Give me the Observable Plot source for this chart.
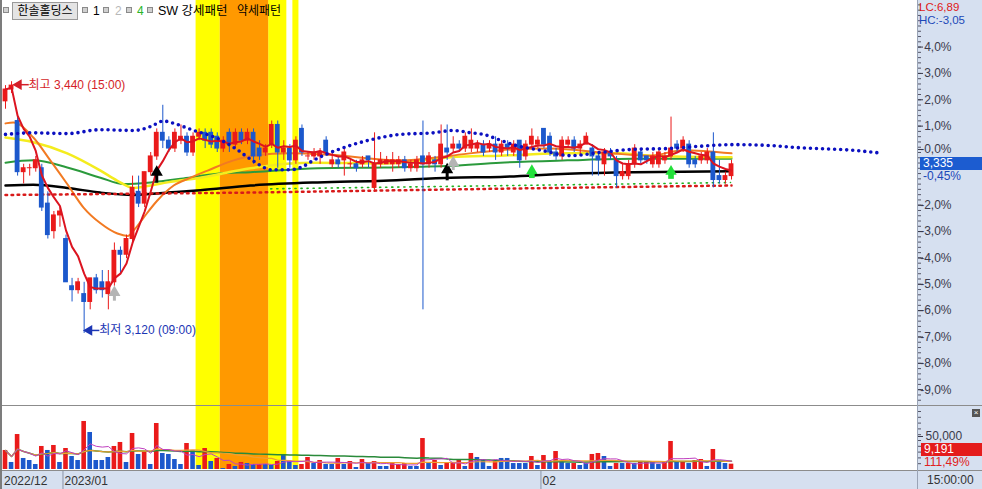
<!DOCTYPE html>
<html><head><meta charset="utf-8">
<script src="https://cdn.jsdelivr.net/npm/d3@7"></script>
<script src="https://cdn.jsdelivr.net/npm/@observablehq/plot@0.6"></script>
<style>
html,body{margin:0;padding:0;background:#fff;}
#wrap{position:relative;width:982px;height:489px;overflow:hidden;background:#fff;font-family:'Liberation Sans','Noto Sans CJK KR',sans-serif;font-size:12px;}
.abs{position:absolute;white-space:nowrap;}
</style></head><body><div id="wrap"></div>
<script>
// ---------------- DATA ----------------
const stockName = "한솔홀딩스";
const basePrice = 3350;
const open = [3415,3430,3390,3325,3330,3330,3330,3285,3250,3270, 3240,3180,3175,3170,3160,3190,3185,3170,3185,3225, 3220,3240,3300,3285,3325,3345,3375,3365,3355,3365, 3370,3350,3370,3375,3375,3370,3355,3375,3360,3375, 3365,3375,3355,3350,3360,3385,3350,3355,3340,3380, 3345,3345,3345,3365,3335,3340,3340,3335,3335,3335, 3345,3305,3335,3335,3335,3335,3340,3330,3330,3345, 3335,3340,3335,3355,3355,3360,3355,3355,3355,3360, 3355,3360,3350,3360,3350,3365,3345,3360,3360,3380, 3370,3350,3345,3360,3365,3355,3360,3355,3345,3335, 3350,3340,3320,3320,3335,3350,3345,3335,3335,3340, 3345,3360,3355,3360,3340,3340,3340,3350,3320,3315, 3320];
const high = [3435,3440,3395,3335,3335,3345,3335,3300,3275,3280, 3245,3190,3190,3185,3190,3195,3200,3200,3235,3230, 3245,3320,3320,3325,3350,3380,3410,3370,3380,3385, 3375,3375,3380,3380,3380,3375,3370,3380,3380,3380, 3380,3380,3365,3360,3390,3390,3365,3360,3370,3385, 3350,3355,3355,3370,3350,3345,3355,3340,3340,3345, 3345,3375,3350,3345,3350,3345,3345,3340,3345,3390, 3350,3345,3385,3385,3370,3365,3375,3380,3365,3365, 3365,3370,3365,3365,3365,3365,3365,3380,3370,3380, 3375,3355,3370,3370,3370,3365,3375,3360,3350,3355, 3355,3345,3335,3340,3360,3355,3345,3350,3355,3350, 3395,3365,3370,3365,3345,3350,3355,3375,3340,3325, 3340];
const low = [3405,3425,3320,3310,3320,3325,3275,3240,3240,3255, 3185,3160,3170,3120,3150,3170,3165,3150,3180,3195, 3215,3235,3280,3280,3320,3340,3355,3350,3350,3360, 3345,3345,3365,3355,3355,3350,3350,3350,3355,3360, 3360,3335,3340,3345,3355,3330,3340,3330,3335,3345, 3340,3340,3335,3345,3330,3330,3320,3330,3325,3330, 3330,3300,3330,3335,3325,3330,3325,3325,3325,3150, 3330,3325,3330,3340,3350,3350,3350,3350,3350,3345, 3350,3340,3345,3345,3345,3330,3340,3355,3355,3355, 3345,3340,3340,3355,3350,3345,3360,3320,3320,3320, 3340,3305,3315,3315,3330,3335,3335,3330,3330,3335, 3340,3350,3350,3330,3330,3335,3335,3305,3310,3310, 3315];
const close = [3430,3435,3325,3330,3330,3340,3280,3245,3270,3275, 3185,3175,3185,3160,3190,3175,3175,3185,3225,3220, 3240,3305,3285,3325,3345,3375,3365,3355,3375,3370, 3350,3370,3375,3365,3360,3355,3365,3360,3375,3365, 3375,3345,3345,3355,3385,3350,3355,3340,3365,3350, 3345,3350,3350,3350,3340,3335,3350,3335,3330,3340, 3340,3335,3340,3340,3340,3340,3330,3335,3340,3335, 3345,3335,3360,3350,3360,3355,3370,3365,3360,3350, 3360,3350,3360,3355,3360,3340,3360,3370,3365,3360, 3350,3345,3365,3365,3355,3360,3370,3345,3340,3350, 3345,3320,3325,3335,3355,3340,3340,3345,3350,3345, 3355,3355,3365,3335,3335,3345,3350,3315,3315,3320, 3335];
const volume = [32800,12100,60300,19000,15500,8600,39700,32800,41400,12100, 36200,22400,15500,82800,63800,15500,15500,20700,39700,46600, 12100,62100,25900,31000,8600,79300,27600,25900,17200,8600, 44800,32800,6900,36200,13800,19000,1700,8600,5200,12100, 10300,8600,8600,8600,6900,13800,25900,13800,6900,8600, 20700,10300,15500,8600,8600,19000,8600,13800,3400,17200, 10300,13800,5200,5200,10300,8600,10300,5200,5200,53400, 10300,15500,6900,10300,10300,15500,5200,27600,20700,17200, 5200,15500,19000,19000,10300,10300,10300,22400,6900,24100, 12100,31000,12100,10300,10300,6900,10300,25900,27600,22400, 5200,10300,10300,10300,10300,12100,12100,12100,8600,12100, 48300,12100,12100,10300,15500,17200,5200,34500,12100,10300, 9191];
const volumeUp = [1,0,1,0,0,0,1,0,1,0, 1,0,0,1,0,0,0,0,1,1, 0,1,0,1,0,1,0,0,0,0, 1,0,0,1,0,1,0,1,0,1, 0,0,1,0,0,1,0,0,0,1, 1,0,1,0,0,1,0,1,0,1, 0,1,0,0,1,1,1,0,0,1, 0,1,0,1,1,1,0,1,0,0, 0,1,0,0,0,0,0,1,0,1, 0,1,0,0,1,0,0,1,1,0, 0,1,0,1,0,1,1,0,0,1, 1,0,1,0,1,1,0,1,0,0, 1];

// indicator lines: [bar index, price]
const orangeMA = [[0,3387],[1.3,3388],[4.6,3369],[7.4,3340],[10.2,3310],[12.9,3280],[15.7,3260],[18.5,3247],[20.2,3244],[21.2,3251],[22.8,3267],[25.1,3289],[27.8,3308],[30.6,3318],[33.4,3327],[37.7,3340],[40.8,3346],[47.1,3349],[53.7,3347],[65.3,3340],[73.6,3346],[81.8,3353],[90.1,3355],[100,3349],[106.6,3346],[112,3353],[120,3349]];
const yellowMA = [[0,3369],[4.6,3363],[10.2,3349],[15.7,3327],[18.5,3314],[21.2,3305],[24,3308],[26.8,3312],[32.2,3318],[40.5,3330],[47.1,3336],[50.9,3337],[62.5,3336],[73.6,3344],[81.8,3346],[92.9,3349],[101.2,3349],[106.6,3346],[120,3344]];
const greenMA = [[0,3337],[4.6,3340],[10.2,3331],[15.7,3318],[19.5,3310],[24,3312],[29.4,3317],[35,3323],[40.5,3325],[51.6,3330],[62.5,3331],[73.6,3333],[81.8,3337],[92.9,3340],[103.8,3342],[120,3342]];
const blackMA = [[0,3308],[4.6,3309],[10.2,3305],[15.7,3299],[21.2,3296],[26.8,3299],[32.2,3302],[40.5,3308],[51.6,3312],[62.5,3314],[73.6,3318],[81.8,3319],[92.9,3323],[103.8,3325],[120,3326]];
const blueDots = [[0,3373],[4.6,3375],[10.2,3374],[15.7,3379],[21.2,3378],[24,3383],[26.1,3390],[27.8,3387],[31.1,3378],[35,3368],[38,3355],[41,3339],[44,3328],[47.1,3328],[49.1,3332],[50.9,3340],[53.7,3350],[57,3359],[60.8,3367],[65.3,3373],[70.7,3375],[74,3378],[76.9,3375],[79,3373],[81.3,3367],[84.3,3359],[88.4,3353],[93.4,3346],[98.3,3350],[103.8,3354],[109.4,3355],[114.9,3358],[120.3,3360],[126,3359],[131.4,3356],[139.7,3353],[145,3349]];
const redDotRow = [[0,3296],[40,3299],[82,3304],[120,3308]];
const greenDotRow = [[44,3300],[82,3304],[120,3308]];

// SW pattern bands (bar index ranges)
const yellowBands = [[32,35],[44,46],[48,48]];
const orangeBands = [[36,43]];

// signals
const blackArrows = [{i:25, from:3311, to:3325},{i:73, from:3314, to:3328}];
const grayArrows = [{i:18, from:3161, to:3172},{i:74, from:3327, to:3337}];
const greenMarks = [{i:87, p:3323},{i:110, p:3322}];
const highMark = {i:1, price:3440, time:"15:00"};
const lowMark = {i:13, price:3120, time:"09:00"};

const pctTicks = [4,3,2,1,-2,-3,-4,-5,-6,-7,-8,-9];
const zeroLabel = "-0,0%";
const dateLabels = ["2022/12","2023/01","02"];
const dateStarts = [0,10,89];
const volTickLabel = 50000;
const volRatioText = "111,49%";
const timeText = "15:00:00";

// ---------------- DRAW ----------------
const FONT = "'Liberation Sans','Noto Sans CJK KR',sans-serif";
const RED = "#ea1a1a", BLUE = "#1c58cc";
const xDomain = [-0.496, 150.74];
const wrap = document.getElementById("wrap");
function addDiv(style, text) {
  const d = document.createElement("div");
  d.className = "abs";
  Object.assign(d.style, style);
  if (text != null) d.textContent = text;
  wrap.appendChild(d);
  return d;
}
const P = d => d[0], V = d => d[1];
const candles = open.map((o, i) => ({i, o, h: high[i], l: low[i], c: close[i], up: close[i] >= o}));
const vols = volume.map((v, i) => ({i, v, up: volumeUp[i] === 1}));
const bands = [
  ...yellowBands.map(([s, e]) => ({s, e, color: "#ffff00"})),
  ...orangeBands.map(([s, e]) => ({s, e, color: "#ff9900"}))
];
const comma = x => x.toFixed(2).replace(".", ",");
const pctFmt = v => `${Math.round((v / basePrice - 1) * 100)},0%`;

// background panels
addDiv({left: "918px", top: "0px", width: "64px", height: "489px", background: "#d6e0f0"});
addDiv({left: "0px", top: "471px", width: "982px", height: "18px", background: "#d6e0f0"});

const main = Plot.plot({
  width: 982, height: 405,
  marginTop: 0, marginBottom: 0, marginLeft: 2, marginRight: 65,
  x: {domain: xDomain, axis: null},
  y: {domain: [3028.4, 3543.2]},
  style: {background: "transparent", fontFamily: FONT, fontSize: "12px", overflow: "visible"},
  marks: [
    Plot.rect(bands, {x1: d => d.s - 0.5, x2: d => d.e + 0.5, fill: "color"}),
    Plot.line(blackMA, {x: P, y: V, stroke: "#000", strokeWidth: 2.5, curve: "monotone-x"}),
    Plot.line(greenMA, {x: P, y: V, stroke: "#2b9a3c", strokeWidth: 2, curve: "monotone-x"}),
    Plot.line(yellowMA, {x: P, y: V, stroke: "#f4ec1e", strokeWidth: 2.5, curve: "monotone-x"}),
    Plot.line(orangeMA, {x: P, y: V, stroke: "#f27a22", strokeWidth: 2, curve: "monotone-x"}),
    Plot.line(redDotRow, {x: P, y: V, stroke: "#d81a1a", strokeWidth: 2.5, strokeDasharray: "1.6 4.45"}),
    Plot.line(greenDotRow, {x: P, y: V, stroke: "#22b022", strokeWidth: 1.6, strokeDasharray: "1.2 4.85", dy: -3, dx: -1}),
    Plot.ruleX(candles, {x: "i", y1: "l", y2: "h", stroke: d => d.up ? RED : BLUE, strokeWidth: 1}),
    Plot.rect(candles, {x1: d => d.i - 0.4, x2: d => d.i + 0.4, y1: d => Math.min(d.o, d.c), y2: d => Math.max(d.o, d.c), fill: d => d.up ? RED : BLUE, insetTop: -0.5, insetBottom: -0.5}),
    Plot.line(candles, Plot.windowY({k: 5, anchor: "end", reduce: "mean"}, {x: "i", y: "c", stroke: "#dc1420", strokeWidth: 2})),
    Plot.line(blueDots, {x: P, y: V, stroke: "#0c10c0", strokeWidth: 3.6, strokeLinecap: "round", strokeDasharray: "0 6.05", curve: "monotone-x"}),
    Plot.ruleX(blackArrows, {x: "i", y1: "from", y2: "to", stroke: "#000", strokeWidth: 3}),
    Plot.dot(blackArrows, {x: "i", y: "to", symbol: "triangle", r: 4.5, fill: "#000"}),
    Plot.ruleX(grayArrows, {x: "i", y1: "from", y2: "to", stroke: "#b4b4b4", strokeWidth: 3}),
    Plot.dot(grayArrows, {x: "i", y: "to", symbol: "triangle", r: 4.5, fill: "#b4b4b4"}),
    Plot.dot(greenMarks, {x: "i", y: "p", symbol: "square", r: 3.2, fill: "#22e03a", dy: 1.5}),
    Plot.dot(greenMarks, {x: "i", y: "p", symbol: "triangle", r: 4.2, fill: "#22e03a", dy: -3}),
    // high / low annotations: arrow head + shaft + text
    Plot.ruleY([highMark], {y: "price", x1: "i", x2: d => d.i + 2.1, dx: 5, dy: 3, stroke: "#d41e28", strokeWidth: 1.5}),
    Plot.dot([highMark], {x: "i", y: "price", symbol: "triangle", rotate: -90, r: 4, dx: 7, dy: 3, fill: "#d41e28"}),
    Plot.text([highMark], {x: "i", y: "price", text: d => `최고 ${d3.format(",")(d.price)} (${d.time})`, textAnchor: "start", dx: 17, dy: 3, fill: "#d41e28", fontSize: 12, fontFamily: FONT}),
    Plot.ruleY([lowMark], {y: "price", x1: "i", x2: d => d.i + 2.1, dx: 3, dy: -3, stroke: "#1c36b4", strokeWidth: 1.5}),
    Plot.dot([lowMark], {x: "i", y: "price", symbol: "triangle", rotate: -90, r: 4, dx: 5, dy: -3, fill: "#1c36b4"}),
    Plot.text([lowMark], {x: "i", y: "price", text: d => `최저 ${d3.format(",")(d.price)} (${d.time})`, textAnchor: "start", dx: 15, dy: -3, fill: "#1c36b4", fontSize: 12, fontFamily: FONT}),
    Plot.axisY({anchor: "right", ticks: d3.range(-48, 29).map(k => basePrice * (1 + k * 0.2 / 100)), tickSize: 3, tickFormat: () => "", label: null, color: "#556"}),
    Plot.axisY({anchor: "right", ticks: pctTicks.map(p => basePrice * (1 + p / 100)), tickSize: 5, tickPadding: 29, textAnchor: "end", label: null, color: "#3a3a4a", fontSize: 12, tickFormat: pctFmt}),
    Plot.axisY({anchor: "right", ticks: [basePrice], tickSize: 5, tickPadding: 29, textAnchor: "end", label: null, color: "#3a3a4a", fontSize: 12, dy: -3, tickFormat: () => zeroLabel})
  ]
});
main.style.position = "absolute"; main.style.left = "0px"; main.style.top = "0px";
wrap.appendChild(main);

const vol = Plot.plot({
  width: 982, height: 64,
  marginTop: 0, marginBottom: 1, marginLeft: 2, marginRight: 65,
  x: {domain: xDomain, axis: null},
  y: {domain: [0, 108621]},
  style: {background: "transparent", fontFamily: FONT, fontSize: "12px", overflow: "visible"},
  marks: [
    Plot.rect(bands, {x1: d => d.s - 0.5, x2: d => d.e + 0.5, fill: "color"}),
    Plot.rectY(vols, {x1: d => d.i - 0.38, x2: d => d.i + 0.38, y: "v", fill: d => d.up ? RED : BLUE}),
    Plot.line(vols, Plot.windowY({k: 60, anchor: "end", reduce: "mean"}, {x: "i", y: "v", stroke: "#2a8a3a", strokeWidth: 1.5})),
    Plot.line(vols, Plot.windowY({k: 20, anchor: "end", reduce: "mean"}, {x: "i", y: "v", stroke: "#f0a030", strokeWidth: 1.2})),
    Plot.line(vols, Plot.windowY({k: 5, anchor: "end", reduce: "mean"}, {x: "i", y: "v", stroke: "#c040c0", strokeWidth: 1})),
    Plot.axisY({anchor: "right", ticks: d3.range(10000, 110000, 10000), tickSize: 3, tickFormat: () => "", label: null, color: "#556"}),
    Plot.axisY({anchor: "right", ticks: [volTickLabel], tickSize: 5, tickPadding: 3, label: null, color: "#3a3a4a", fontSize: 12, dy: -4, tickFormat: d3.format(",")})
  ]
});
vol.style.position = "absolute"; vol.style.left = "0px"; vol.style.top = "406px";
wrap.appendChild(vol);

const dates = dateStarts.map((i, k) => ({i, label: dateLabels[k]}));
const dateAxis = Plot.plot({
  width: 982, height: 19,
  marginTop: 0, marginBottom: 0, marginLeft: 2, marginRight: 65,
  x: {domain: xDomain, axis: null},
  style: {background: "transparent", fontFamily: FONT, fontSize: "12px", overflow: "visible"},
  marks: [
    Plot.ruleX(dates.slice(1), {x: d => d.i - 0.5, stroke: "#8a94a6"}),
    Plot.text(dates, {x: "i", text: "label", frameAnchor: "middle", textAnchor: "start", dx: -1.5, dy: 1, fill: "#333", fontSize: 12})
  ]
});
dateAxis.style.position = "absolute"; dateAxis.style.left = "0px"; dateAxis.style.top = "470px";
wrap.appendChild(dateAxis);

// separators and borders
addDiv({left: "0px", top: "405px", width: "982px", height: "1px", background: "#8c8c8c"});
addDiv({left: "0px", top: "470px", width: "982px", height: "1px", background: "#8c8c8c"});
addDiv({left: "917px", top: "0px", width: "1px", height: "489px", background: "#9aa4b6"});
addDiv({left: "0px", top: "0px", width: "2px", height: "489px", background: "#7c7c7c"});

// legend row
const sq = left => addDiv({left: left + "px", top: "7px", width: "4px", height: "4px", background: "#d0d0d0", border: "1px solid #8a8a8a"});
sq(3);
addDiv({left: "12px", top: "2px", width: "64px", height: "16px", background: "#e4e4e4", border: "1px solid #9a9a9a", lineHeight: "16px", textAlign: "center", color: "#000"}, stockName);
sq(82); addDiv({left: "93px", top: "3px", color: "#000", lineHeight: "16px"}, "1");
sq(103); addDiv({left: "115px", top: "3px", color: "#b8b8b8", lineHeight: "16px"}, "2");
sq(126); addDiv({left: "137px", top: "3px", color: "#2ab42a", lineHeight: "16px"}, "4");
sq(147); addDiv({left: "158px", top: "3px", color: "#000", lineHeight: "16px", fontSize: "12.5px"}, "SW 강세패턴");
addDiv({left: "237px", top: "3px", color: "#000", lineHeight: "16px", fontSize: "12px"}, "약세패턴");

// right panel texts
const lastClose = close[close.length - 1];
const lc = (lastClose / d3.min(low) - 1) * 100;
const hc = (lastClose / d3.max(high) - 1) * 100;
addDiv({left: "919px", top: "1px", color: "#e01818", fontSize: "11.5px", lineHeight: "12px"}, "LC:" + comma(lc));
addDiv({left: "919px", top: "14px", color: "#1c48b8", fontSize: "11.5px", lineHeight: "12px"}, "HC:" + comma(hc));
const yLast = main.scale("y").apply(lastClose);
addDiv({left: "920px", top: (yLast - 7) + "px", width: "62px", height: "13px", background: "#1c5cd0", color: "#fff", lineHeight: "13px", paddingLeft: "3px", boxSizing: "border-box"}, d3.format(",")(lastClose));
addDiv({left: "923px", top: (yLast + 7) + "px", color: "#1c48b8", lineHeight: "11px"}, comma((lastClose / basePrice - 1) * 100) + "%");

const vLast = volume[volume.length - 1];
addDiv({left: "921px", top: "443px", width: "61px", height: "13px", background: "#e41c1c", color: "#fff", lineHeight: "13px", paddingLeft: "3px", boxSizing: "border-box"}, d3.format(",")(vLast));
addDiv({left: "924px", top: "457px", color: "#e02020", lineHeight: "11px"}, volRatioText);
addDiv({left: "972px", top: "409px", width: "8px", height: "8px", background: "#555", color: "#fff", fontSize: "8px", lineHeight: "8px", textAlign: "center"}, "×");
addDiv({left: "927px", top: "473px", color: "#333", lineHeight: "14px"}, timeText);
</script></body></html>
